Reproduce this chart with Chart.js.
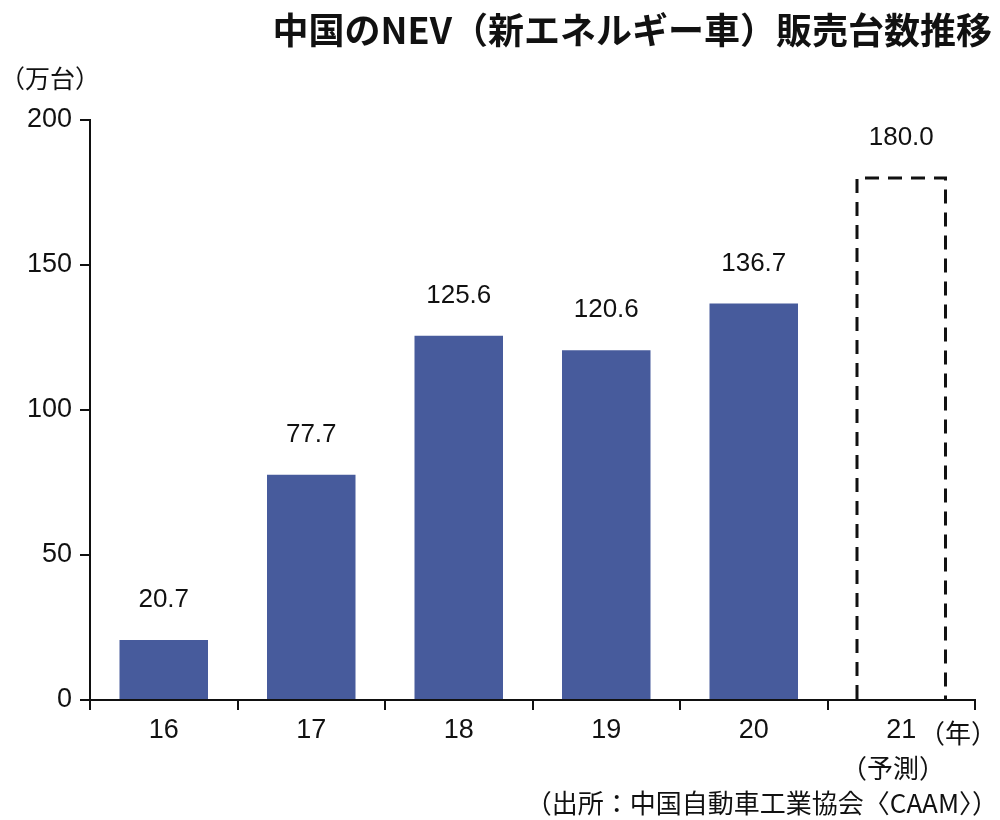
<!DOCTYPE html>
<html><head><meta charset="utf-8">
<script src="https://cdn.jsdelivr.net/npm/chart.js@4"></script>
<style>body{margin:0;background:#fff}#wrap{width:1000px;height:820px}</style>
</head><body><div id="wrap"><canvas id="c"></canvas></div>
<script>
const years = ['16', '17', '18', '19', '20', '21'];
const sales = [20.7, 77.7, 125.6, 120.6, 136.7, 180.0];
const yTicks = [0, 50, 100, 150, 200];
const FONT = '"Liberation Sans", Arial, sans-serif';
const JP = '"Noto Sans CJK JP", sans-serif';

const decor = {
  id: 'decor',
  afterDraw(chart) {
    const ctx = chart.ctx, x = chart.scales.x, y = chart.scales.y;
    ctx.save();
    // dashed forecast bar, from the element's own geometry
    const el = chart.getDatasetMeta(0).data[5];
    ctx.strokeStyle = '#111'; ctx.lineWidth = 3; ctx.setLineDash([14, 9]);
    ctx.beginPath();
    ctx.moveTo(el.x - el.width / 2, el.base);
    ctx.lineTo(el.x - el.width / 2, el.y);
    ctx.lineTo(el.x + el.width / 2, el.y);
    ctx.lineTo(el.x + el.width / 2, el.base);
    ctx.stroke();
    ctx.setLineDash([]);

    ctx.fillStyle = '#111';
    ctx.textAlign = 'right'; ctx.textBaseline = 'middle';
    ctx.font = 'bold 36px ' + JP;
    ctx.fillText('中国のNEV（新エネルギー車）販売台数推移', 992, 30);
    ctx.textAlign = 'left';
    ctx.font = '25px ' + JP;
    ctx.fillText('（万台）', 0, 78);
    ctx.textAlign = 'center';
    ctx.font = '26px ' + FONT;
    sales.forEach((v, i) => {
      ctx.fillText(v.toFixed(1), x.getPixelForValue(i), y.getPixelForValue(v) - 40);
    });
    ctx.font = '26px ' + JP;
    ctx.fillText('（年）', 958, 733);
    ctx.fillText('（予測）', 893, 768);
    ctx.textAlign = 'right';
    ctx.fillText('（出所：中国自動車工業協会〈CAAM〉）', 998, 803);
    ctx.restore();
  }
};

new Chart(document.getElementById('c'), {
  type: 'bar',
  data: {
    labels: years,
    datasets: [{
      data: sales,
      backgroundColor: sales.map((v, i) => i === 5 ? 'rgba(0,0,0,0)' : '#475b9c'),
      borderWidth: 0,
      categoryPercentage: 1,
      barPercentage: 0.6
    }]
  },
  options: {
    responsive: true, maintainAspectRatio: false, animation: false,
    layout: { padding: { top: 120, right: 25, left: 0, bottom: 0 } },
    plugins: { legend: { display: false }, tooltip: { enabled: false } },
    scales: {
      x: {
        grid: { display: true, drawOnChartArea: false, offset: true, tickLength: 10, color: '#111', lineWidth: 2 },
        border: { color: '#111', width: 2 },
        ticks: { color: '#111', font: { size: 27, family: FONT }, padding: 4 },
        afterFit(s) { s.height = 120; }
      },
      y: {
        min: 0, max: 200,
        afterBuildTicks(s) { s.ticks = yTicks.map(v => ({ value: v })); },
        grid: { drawOnChartArea: false, tickLength: 10, color: '#111', lineWidth: 2 },
        border: { color: '#111', width: 2 },
        ticks: { color: '#111', font: { size: 27, family: FONT }, padding: 8 },
        afterFit(s) { s.width = 90; }
      }
    }
  },
  plugins: [decor]
});
</script></body></html>
